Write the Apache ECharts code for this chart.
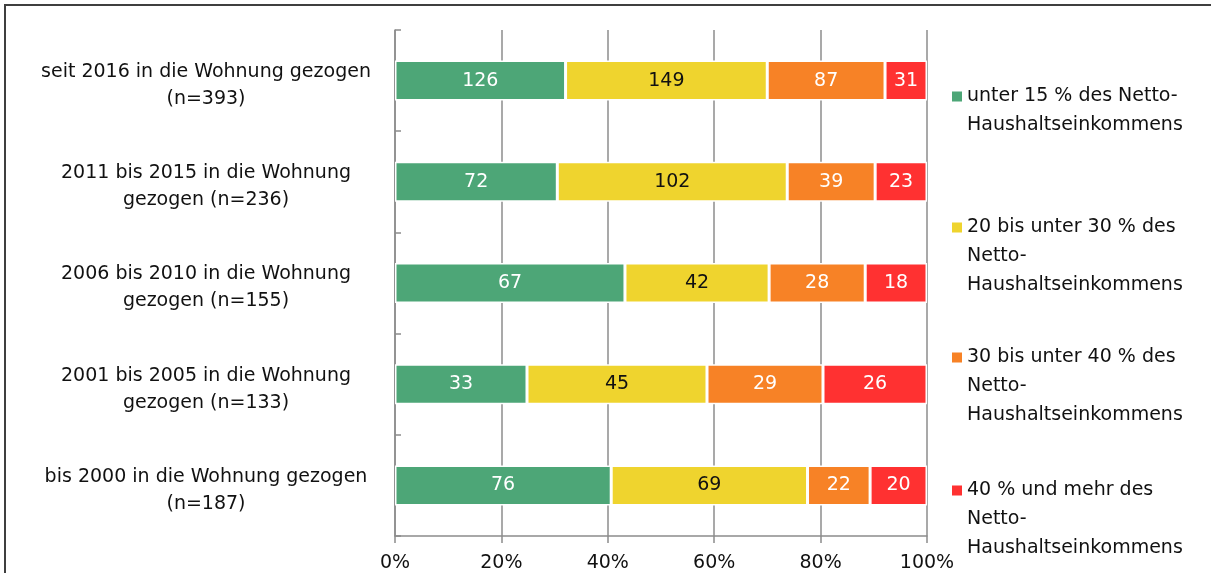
<!DOCTYPE html>
<html>
<head>
<meta charset="utf-8">
<script src="https://cdn.jsdelivr.net/npm/echarts@6/dist/echarts.min.js"></script>
<style>
  html, body { margin: 0; padding: 0; background: #fff; }
  #chart { width: 1211px; height: 573px; }
</style>
</head>
<body>
<div id="chart"></div>
<script>
// Category labels (top to bottom)
const categories = [
  'seit 2016 in die Wohnung gezogen\n(n=393)',
  '2011 bis 2015 in die Wohnung\ngezogen (n=236)',
  '2006 bis 2010 in die Wohnung\ngezogen (n=155)',
  '2001 bis 2005 in die Wohnung\ngezogen (n=133)',
  'bis 2000 in die Wohnung gezogen\n(n=187)'
];

// Household counts per rent-burden group
const unter15 = [126, 72, 67, 33, 76];
const bis30   = [149, 102, 42, 45, 69];
const bis40   = [87, 39, 28, 29, 22];
const ab40    = [31, 23, 18, 26, 20];

const seriesNames = [
  'unter 15 % des Netto-\nHaushaltseinkommens',
  '20 bis unter 30 % des\nNetto-\nHaushaltseinkommens',
  '30 bis unter 40 % des\nNetto-\nHaushaltseinkommens',
  '40 % und mehr des\nNetto-\nHaushaltseinkommens'
];

const xTickLabels = ['0%', '20%', '40%', '60%', '80%', '100%'];

const colors = ['#4da677', '#efd42e', '#f78226', '#ff3131'];
const labelColors = ['#ffffff', '#111111', '#ffffff', '#ffffff'];

const groups = [unter15, bis30, bis40, ab40];
const totals = categories.map((_, i) => groups.reduce((s, g) => s + g[i], 0));

const FONT = 'DejaVu Sans';
const FS = 19;
const LINE = 29;

const series = groups.map((g, si) => ({
  name: seriesNames[si],
  type: 'bar',
  stack: 'total',
  barWidth: 40,
  itemStyle: { color: colors[si], borderColor: '#ffffff', borderWidth: 1.5 },
  label: {
    show: true,
    position: 'inside',
    color: labelColors[si],
    fontFamily: FONT,
    fontSize: FS,
    formatter: p => String(p.data.count)
  },
  data: g.map((c, i) => ({ value: c / totals[i] * 100, count: c }))
}));

// Legend marker: a 10px square sitting level with the first text line,
// padded with an invisible baseline so the item is tall enough.
function markerIcon(lines) {
  const h = (lines - 1) * LINE + 10;
  return { icon: 'path://M0,0H10V10H0Z M0,' + h + 'L10,' + h, h: h };
}

const legendSquareCenters = [87, 218, 348, 481];
const legendLines = [2, 3, 3, 3];
const legends = seriesNames.map((n, i) => {
  const m = markerIcon(legendLines[i]);
  return {
    data: [n],
    orient: 'vertical',
    left: 952,
    top: legendSquareCenters[i] - 5,
    padding: 0,
    icon: m.icon,
    itemWidth: 10,
    itemHeight: m.h,
    itemStyle: { borderWidth: 0 },
    selectedMode: false,
    textStyle: {
      fontFamily: FONT,
      fontSize: FS,
      color: '#111',
      lineHeight: LINE
    }
  };
});

const chart = echarts.init(document.getElementById('chart'), null, { renderer: 'canvas' });
chart.setOption({
  animation: false,
  color: colors,
  graphic: [{
    type: 'rect',
    shape: { x: 5, y: 5, width: 1300, height: 700 },
    style: { fill: 'none', stroke: '#3f3f3f', lineWidth: 2 },
    silent: true
  }],
  grid: {
    left: 395, right: 284, top: 30, bottom: 37,
    containLabel: false,
    outerBoundsMode: 'none'
  },
  legend: legends,
  xAxis: {
    type: 'value',
    min: 0,
    max: 100,
    interval: 20,
    axisLine: { show: true, lineStyle: { color: '#8c8c8c', width: 1.5 } },
    axisTick: { show: true, length: 7, lineStyle: { color: '#8c8c8c', width: 1.5 } },
    splitLine: { show: true, lineStyle: { color: '#8c8c8c', width: 1.5 } },
    axisLabel: {
      color: '#111',
      fontFamily: FONT,
      fontSize: FS,
      margin: 18,
      formatter: (v) => xTickLabels[Math.round(v / 20)]
    }
  },
  yAxis: {
    type: 'category',
    inverse: true,
    data: categories,
    axisLine: { show: true, lineStyle: { color: '#8c8c8c', width: 1.5 } },
    axisTick: { show: true, inside: true, length: 6, lineStyle: { color: '#8c8c8c', width: 1.5 } },
    axisLabel: {
      color: '#111',
      fontFamily: FONT,
      fontSize: FS,
      align: 'center',
      margin: 189,
      // a thin spacer line above the two text lines nudges the block down
      formatter: (v) => '{s| }\n' + v.split('\n').map(t => '{t|' + t + '}').join('\n'),
      rich: {
        s: { fontSize: 1, lineHeight: 10 },
        t: { fontFamily: FONT, fontSize: FS, lineHeight: 27, color: '#111' }
      }
    }
  },
  series: series
});
</script>
</body>
</html>
